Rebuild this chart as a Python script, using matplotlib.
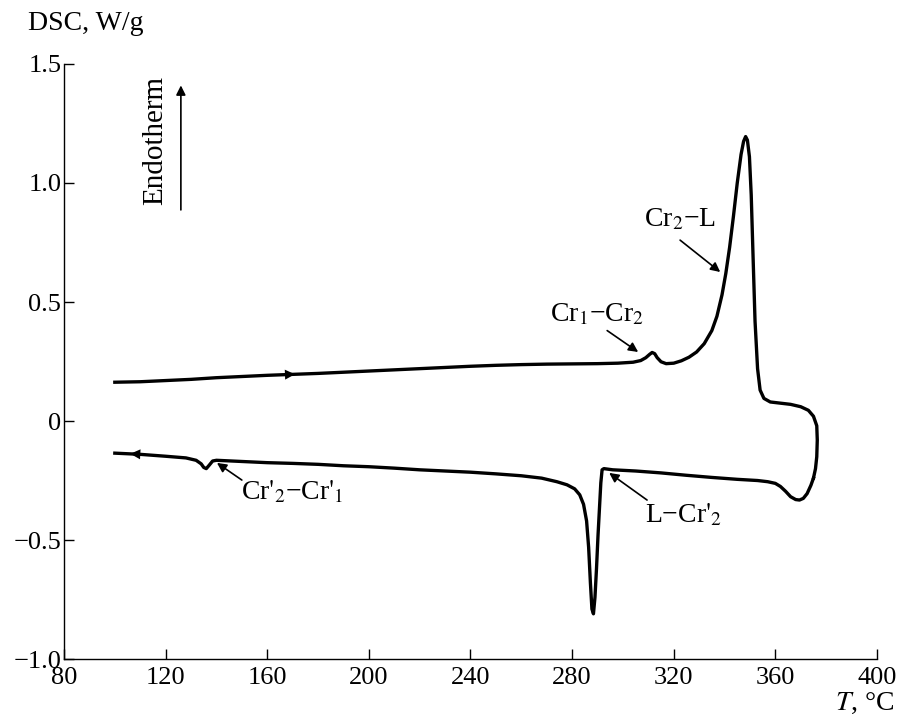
import numpy as np
import matplotlib.pyplot as plt

# heating branch, then cooling branch (T in C, DSC in W/g)
heat_T = [100, 110, 120, 130, 140, 150, 160, 170, 180, 190, 200, 210, 220, 230,
          240, 250, 260, 270, 280, 290, 298, 304, 307, 309, 310.5, 311.5, 312.5,
          313.5, 315, 317, 320, 323, 326, 329, 332, 335, 337, 339, 340.5, 342,
          343.5, 345, 346.5, 347.5, 348.3, 349, 349.8, 350.5, 351.2, 352, 353,
          354, 355.5, 358, 362, 366, 370, 373, 375, 376.3, 376.5, 376.3, 375.8, 375]
heat_v = [0.163, 0.165, 0.170, 0.175, 0.182, 0.187, 0.192, 0.196, 0.200, 0.205,
          0.210, 0.215, 0.220, 0.225, 0.230, 0.234, 0.237, 0.239, 0.240, 0.241,
          0.243, 0.247, 0.254, 0.266, 0.280, 0.288, 0.283, 0.266, 0.249, 0.241,
          0.243, 0.253, 0.268, 0.290, 0.325, 0.380, 0.440, 0.530, 0.620, 0.730,
          0.860, 1.000, 1.120, 1.175, 1.195, 1.180, 1.110, 0.950, 0.700, 0.420,
          0.220, 0.130, 0.095, 0.080, 0.075, 0.070, 0.060, 0.045, 0.020, -0.020,
          -0.080, -0.150, -0.200, -0.240]

cool_T = [375, 374, 372.5, 371, 369.5, 368, 366, 364, 362, 360, 357, 353, 345,
          335, 325, 315, 305, 296, 292.5, 291.8, 291.3, 290.8, 290.2, 289.6, 289.0,
          288.4, 287.8, 287.2, 286.5, 285.7, 284.5, 283, 281, 278, 274, 268, 260,
          250, 240, 230, 220, 210, 200, 190, 180, 170, 160, 150, 140, 138.5, 137.2,
          136, 135, 134, 132, 128, 120, 110, 100]
cool_v = [-0.240, -0.270, -0.305, -0.325, -0.332, -0.330, -0.318, -0.295, -0.275,
          -0.262, -0.255, -0.250, -0.245, -0.237, -0.228, -0.218, -0.210, -0.205,
          -0.200, -0.205, -0.260, -0.360, -0.480, -0.620, -0.740, -0.810, -0.790,
          -0.680, -0.530, -0.420, -0.350, -0.310, -0.285, -0.268, -0.255, -0.240,
          -0.230, -0.222, -0.215, -0.210, -0.205, -0.198, -0.192, -0.188, -0.182,
          -0.178, -0.175, -0.170, -0.165, -0.168, -0.185, -0.200, -0.195, -0.180,
          -0.165, -0.155, -0.148, -0.140, -0.135]

x_ticks = [80, 120, 160, 200, 240, 280, 320, 360, 400]
y_ticks = [-1.0, -0.5, 0, 0.5, 1.0, 1.5]
y_tick_labels = ['\u22121.0', '\u22120.5', '0', '0.5', '1.0', '1.5']

plt.rcParams['font.family'] = ['Liberation Serif', 'DejaVu Serif']
plt.rcParams['mathtext.fontset'] = 'stix'

fig = plt.figure(figsize=(8.99, 7.19), dpi=100)
ax = fig.add_axes([0.0712, 0.0834, 0.9043, 0.8276])

ax.plot(heat_T, heat_v, color='black', lw=2.4, solid_joinstyle='round')
ax.plot(cool_T, cool_v, color='black', lw=2.4, solid_joinstyle='round')

# direction arrows on the curves
ax.annotate('', xy=(172, 0.197), xytext=(165, 0.194),
            arrowprops=dict(arrowstyle='-|>', color='black', lw=0, mutation_scale=18))
ax.annotate('', xy=(105, -0.137), xytext=(112, -0.141),
            arrowprops=dict(arrowstyle='-|>', color='black', lw=0, mutation_scale=18))

ax.set_xlim(80, 400)
ax.set_ylim(-1.0, 1.5)
ax.set_xticks(x_ticks)
ax.set_yticks(y_ticks)
ax.set_yticklabels(y_tick_labels)
ax.tick_params(direction='in', length=7, width=1, labelsize=19, pad=2)
ax.tick_params(axis='x', pad=6)
for s in ['top', 'right']:
    ax.spines[s].set_visible(False)
ax.spines['left'].set_linewidth(1)
ax.spines['bottom'].set_linewidth(1)

fig.text(0.031, 0.968, 'DSC, W/g', fontsize=20, va='center', ha='left')
fig.text(0.995, 0.021, '$T$, \u00b0C', fontsize=20, va='center', ha='right')

arrow = dict(arrowstyle='-|>', color='black', lw=1.2, mutation_scale=14,
             shrinkA=0, shrinkB=0)
fs = 20
ax.text(115.8, 1.18, 'Endotherm', rotation=90, fontsize=21, ha='center', va='center')
ax.annotate('', xy=(126, 1.41), xytext=(126, 0.887), arrowprops=arrow)

ax.text(322.5, 0.845, 'Cr$_2$\u2212L', fontsize=fs, ha='center', va='center')
ax.annotate('', xy=(338.3, 0.626), xytext=(322.5, 0.76), arrowprops=arrow)

ax.text(289.8, 0.445, 'Cr$_1$\u2212Cr$_2$', fontsize=fs, ha='center', va='center')
ax.annotate('', xy=(306, 0.29), xytext=(293.8, 0.38), arrowprops=arrow)

ax.text(169.8, -0.30, "Cr$'_2$\u2212Cr$'_1$", fontsize=fs, ha='center', va='center')
ax.annotate('', xy=(140.2, -0.176), xytext=(150, -0.248), arrowprops=arrow)

ax.text(323.7, -0.395, "L\u2212Cr$'_2$", fontsize=fs, ha='center', va='center')
ax.annotate('', xy=(294.6, -0.218), xytext=(309.5, -0.332), arrowprops=arrow)

fig.savefig('out.png', dpi=100)
